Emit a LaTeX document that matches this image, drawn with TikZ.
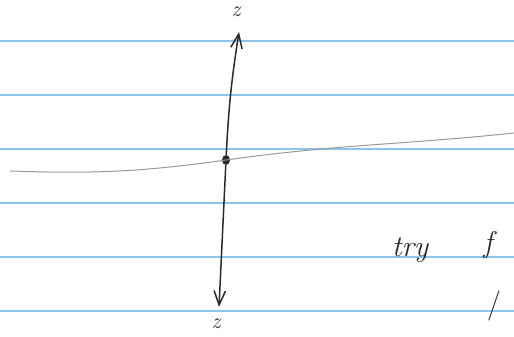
\documentclass[tikz,border=0pt]{standalone}
\usepackage{tikz}
\usetikzlibrary{arrows.meta,positioning,calc,shapes.geometric}
\definecolor{ruleblue}{HTML}{8CC4EC}
\definecolor{pencil}{HTML}{9A9A94}
\definecolor{ink}{HTML}{2A2A2A}
\tikzset{
  rule/.style  = {draw=ruleblue, line width=1.4pt},
  curve/.style = {draw=pencil, line width=1pt},
  axis/.style  = {-{Straight Barb[length=5mm,width=4mm]}, draw=ink, line width=1.5pt},
  hand/.style  = {text=ink, inner sep=1pt},
}
\begin{document}
\begin{tikzpicture}[x=1pt,y=-1pt]
  \useasboundingbox (0,0) rectangle (514,337);
  % ruled paper
  \foreach \y in {41,95,149,203,257,311}{
    \draw[rule] (0,\y) -- (514,\y);
  }
  % pencil curve through the point
  \coordinate (cl) at (10,171);
  \coordinate (cr) at (514,133);
  \node[ellipse, fill=ink, inner sep=0pt, minimum width=8pt, minimum height=10pt] (p) at (226,160) {};
  \draw[curve] (cl) to[out=-2,in=188] (p.center) to[out=8,in=186] (cr);
  % axis up and down
  \coordinate (top) at (239,32);
  \coordinate (bot) at (219,307);
  \draw[axis] (p) to[bend left=3] (top);
  \draw[axis] (p) -- (bot);
  \node[hand, font=\fontsize{22}{22}\selectfont\itshape] (ztop) at (236,12) {z};
  \node[hand, font=\fontsize{22}{22}\selectfont\itshape] (zbot) at (216,324) {z};
  % margin notes
  \node[hand, font=\fontsize{30}{30}\selectfont\itshape] (try) at (410,250) {try};
  \node[hand, font=\fontsize{30}{30}\selectfont\itshape] (fn) at (488,245) {f};
  \node[hand, font=\fontsize{30}{30}\selectfont] (sl) at (494,306) {/};
\end{tikzpicture}
\end{document}
